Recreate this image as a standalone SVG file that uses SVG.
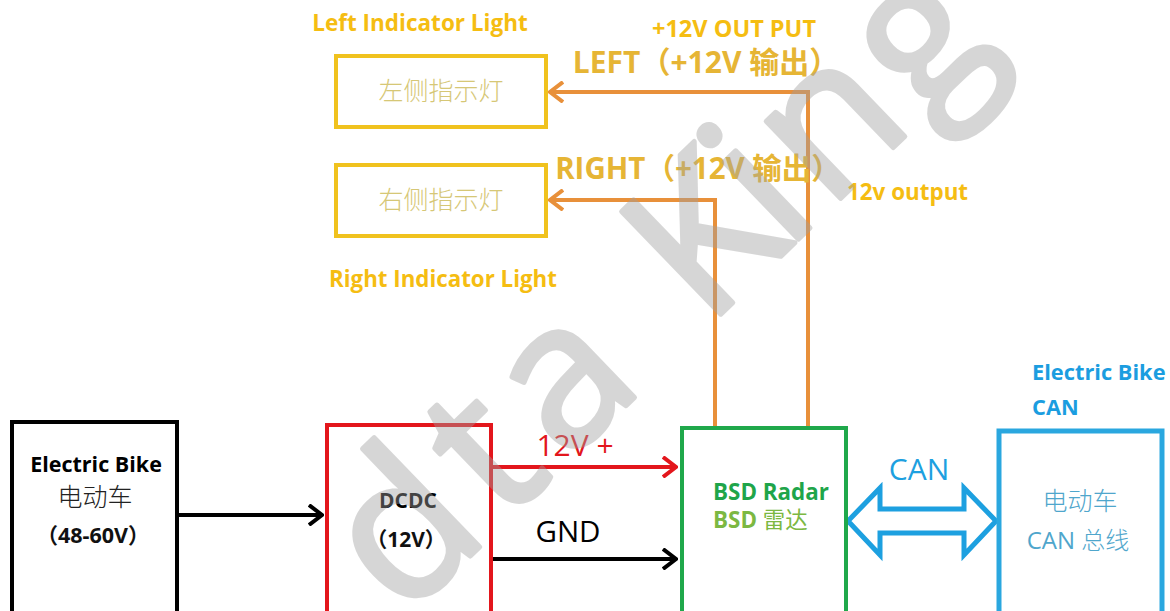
<svg xmlns="http://www.w3.org/2000/svg" width="1170" height="611" viewBox="0 0 1170 611">
<style>
.en{font-family:"Open Sans","Noto Sans CJK SC",sans-serif}
.b{font-weight:bold}
.cjk{font-family:"Noto Sans CJK SC","Open Sans",sans-serif}
.box{fill:none}
.mid{text-anchor:middle}
</style>
<defs>
<marker id="ahK" markerUnits="userSpaceOnUse" viewBox="0 0 16 22" refX="14" refY="11" markerWidth="16" markerHeight="22" orient="auto"><path d="M1,1 L14,11 L1,21" fill="none" stroke="#000" stroke-width="4"/></marker>
<marker id="ahR" markerUnits="userSpaceOnUse" viewBox="0 0 16 22" refX="14" refY="11" markerWidth="16" markerHeight="22" orient="auto"><path d="M1,1 L14,11 L1,21" fill="none" stroke="#e3161c" stroke-width="4"/></marker>
<marker id="ahO" markerUnits="userSpaceOnUse" viewBox="0 0 16 22" refX="14" refY="11" markerWidth="16" markerHeight="22" orient="auto"><path d="M1,1 L14,11 L1,21" fill="none" stroke="#e8903a" stroke-width="4"/></marker>
</defs>
<rect width="1170" height="611" fill="#fff"/>

<g id="connectors" fill="none" stroke-width="4">
<path d="M177,515 H322" stroke="#000" marker-end="url(#ahK)"/>
<path d="M491,467 H676" stroke="#e3161c" marker-end="url(#ahR)"/>
<path d="M491,559 H676" stroke="#000" marker-end="url(#ahK)"/>
<path d="M808,428 V92 H550" stroke="#e8903a" marker-end="url(#ahO)"/>
<path d="M715,428 V200 H550" stroke="#e8903a" marker-end="url(#ahO)"/>
<path d="M848,521 L880,488 L880,509 L964,509 L964,488 L996,521 L964,555 L964,533 L880,533 L880,555 Z" fill="#fff" stroke="#1da0e0" stroke-width="5" stroke-linejoin="miter"/>
</g>

<g id="left-light">
<rect x="336" y="56" width="210" height="71" class="box" stroke="#f0c21e" stroke-width="4"/>
<text x="441" y="100" class="cjk mid" font-size="25" font-weight="300" fill="#d6c776">左侧指示灯</text>
</g>
<g id="right-light">
<rect x="336" y="165" width="210" height="71" class="box" stroke="#f0c21e" stroke-width="4"/>
<text x="441" y="209" class="cjk mid" font-size="25" font-weight="300" fill="#d6c776">右侧指示灯</text>
</g>

<g id="labels-top">
<text x="420" y="31" class="en b mid" font-size="22.5" fill="#f5bd12">Left Indicator Light</text>
<text x="734" y="37" class="en b mid" font-size="23.5" fill="#f5bd12">+12V OUT PUT</text>
<text x="706" y="73" class="en b mid" font-size="30" fill="#e6b535">LEFT（+12V 输出）</text>
<text x="698" y="179" class="en b mid" font-size="29.5" fill="#e6b535">RIGHT（+12V 输出）</text>
<text x="847" y="200" class="en b" font-size="22.4" fill="#f5bd12">12v output</text>
<text x="443" y="287" class="en b mid" font-size="22.3" fill="#f5bd12">Right Indicator Light</text>
</g>

<g id="ebike">
<rect x="12" y="422" width="165" height="200" class="box" stroke="#000" stroke-width="4"/>
<text x="96" y="472" class="en b mid" font-size="21.5" fill="#000">Electric Bike</text>
<text x="95" y="506" class="cjk mid" font-size="25" font-weight="300" fill="#222">电动车</text>
<text x="93" y="543" class="en b mid" font-size="21.5" fill="#111">（48-60V）</text>
</g>

<g id="dcdc">
<rect x="327" y="425" width="164" height="200" class="box" stroke="#e3161c" stroke-width="4"/>
<text x="408" y="508" class="en b mid" font-size="21" fill="#000">DCDC</text>
<text x="406" y="547" class="en b mid" font-size="21" fill="#111">（12V）</text>
</g>

<g id="wire-labels">
<text x="575" y="456" class="en mid" font-size="30" fill="#e3161c">12V +</text>
<text x="568" y="542" class="en mid" font-size="29.5" fill="#000">GND</text>
<text x="919" y="480" class="en mid" font-size="30" fill="#1da0e0">CAN</text>
</g>

<g id="bsd">
<rect x="682" y="428" width="164" height="200" class="box" stroke="#1fa84b" stroke-width="4"/>
<text x="713" y="500" class="en b" font-size="22.4" fill="#1fa54a">BSD Radar</text>
<text x="713" y="528" class="en" font-size="22.4" fill="#7cb842"><tspan font-weight="bold">BSD</tspan> <tspan class="cjk">雷达</tspan></text>
</g>

<g id="can-bus">
<text x="1032" y="380" class="en b" font-size="21.8" fill="#1b9de0">Electric Bike</text>
<text x="1032" y="415" class="en b" font-size="21.8" fill="#1b9de0">CAN</text>
<rect x="999" y="431" width="163" height="200" class="box" stroke="#2aa7df" stroke-width="5"/>
<text x="1080" y="510" class="cjk mid" font-size="25" font-weight="300" fill="#4fa6cc">电动车</text>
<text x="1078" y="549" class="en mid" font-size="24" fill="#4fa6cc">CAN <tspan class="cjk" font-weight="300">总线</tspan></text>
</g>

<g id="watermark" opacity="0.42">
<text transform="translate(404,620) rotate(-44)" font-family="Open Sans, sans-serif" font-size="200" letter-spacing="16" fill="#a0a0a0" stroke="#a0a0a0" stroke-width="5" stroke-linejoin="round">dta K<tspan dx="-28" letter-spacing="8">ing</tspan></text>
</g>
</svg>
